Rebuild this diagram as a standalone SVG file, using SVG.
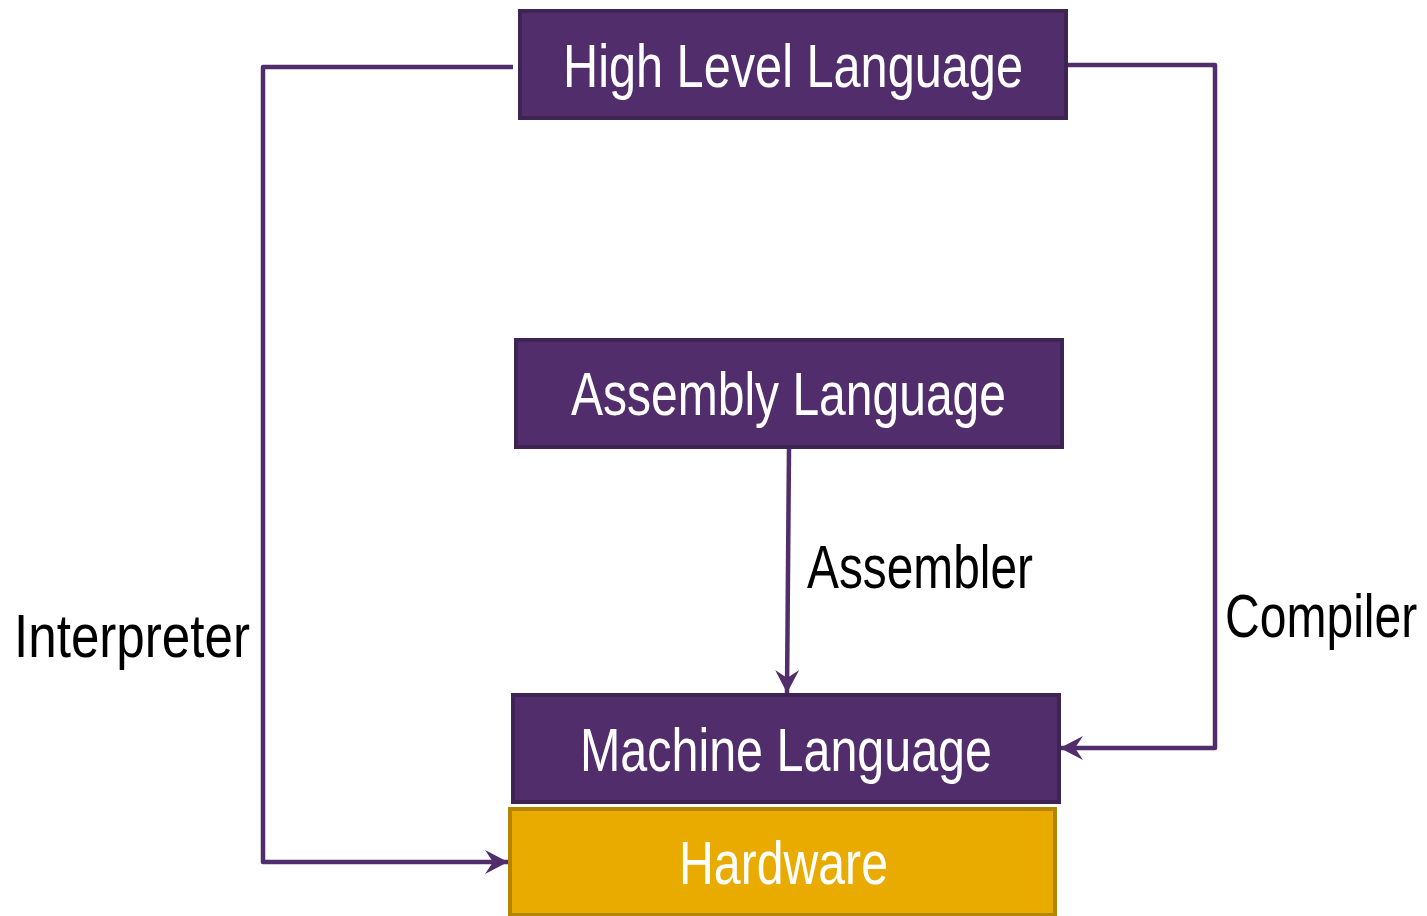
<svg xmlns="http://www.w3.org/2000/svg" width="1427" height="916" viewBox="0 0 1427 916">
  <style>
    .box { fill: #522d6b; stroke: #3e2452; stroke-width: 4; }
    .hw { fill: #e9ab00; stroke: #b58500; stroke-width: 4; }
    .nodetext { font-family: "Liberation Sans", Arial, sans-serif; font-size: 62px; fill: #ffffff; text-anchor: middle; }
    .label { font-family: "Liberation Sans", Arial, sans-serif; font-size: 62px; fill: #000000; }
    .wire { fill: none; stroke: #522d6b; stroke-width: 4.5; stroke-linejoin: round; }
  </style>
  <defs>
    <marker id="arrow" viewBox="0 0 26 26" refX="24" refY="13" markerWidth="26" markerHeight="26" markerUnits="userSpaceOnUse" orient="auto">
      <path d="M24,13 L1,1 L9,13 L1,25 Z" fill="#522d6b"/>
    </marker>
  </defs>

  <rect width="1427" height="916" fill="#ffffff"/>

  <g id="connectors">
    <path id="interpreter-wire" class="wire" d="M513,67 H263 V862 H508" marker-end="url(#arrow)"/>
    <path id="compiler-wire" class="wire" d="M1067,65 H1215 V748 H1060" marker-end="url(#arrow)"/>
    <path id="assembler-wire" class="wire" d="M789,448 L787,693" marker-end="url(#arrow)"/>
    <text class="label" x="14" y="657" textLength="236" lengthAdjust="spacingAndGlyphs">Interpreter</text>
    <text class="label" x="807" y="588" textLength="226" lengthAdjust="spacingAndGlyphs">Assembler</text>
    <!-- narrowed horizontally so the label fits the right margin -->
    <text class="label" transform="translate(1225,637) scale(0.775,1)">Compiler</text>
  </g>

  <g id="high-level-language">
    <rect class="box" x="520" y="11" width="546" height="107"/>
    <text class="nodetext" x="793" y="87" textLength="460" lengthAdjust="spacingAndGlyphs">High Level Language</text>
  </g>

  <g id="assembly-language">
    <rect class="box" x="516" y="340" width="546" height="107"/>
    <text class="nodetext" x="788.5" y="415" textLength="435" lengthAdjust="spacingAndGlyphs">Assembly Language</text>
  </g>

  <g id="machine-language">
    <rect class="box" x="513" y="695" width="546" height="107"/>
    <text class="nodetext" x="786" y="771" textLength="412" lengthAdjust="spacingAndGlyphs">Machine Language</text>
  </g>

  <g id="hardware">
    <rect class="hw" x="510" y="809" width="545" height="106"/>
    <text class="nodetext" x="783.5" y="884" textLength="209" lengthAdjust="spacingAndGlyphs">Hardware</text>
  </g>
</svg>
